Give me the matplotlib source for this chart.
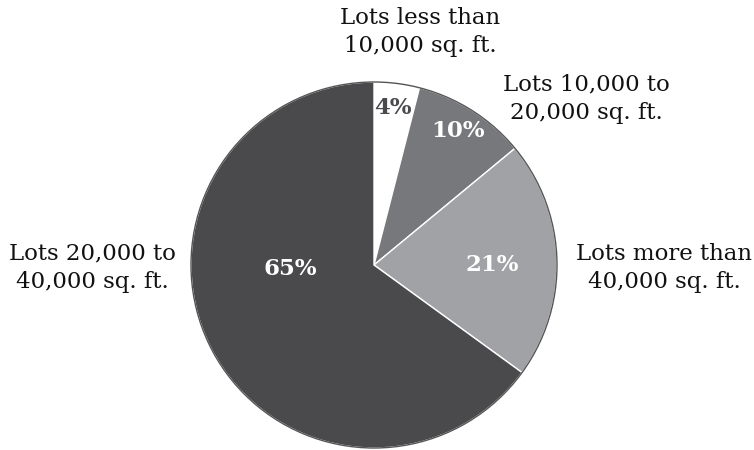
import matplotlib
matplotlib.use("Agg")
import matplotlib.pyplot as plt
from matplotlib.patches import Circle

labels = ["Lots less than\n10,000 sq. ft.", "Lots 10,000 to\n20,000 sq. ft.",
          "Lots more than\n40,000 sq. ft.", "Lots 20,000 to\n40,000 sq. ft."]
values = [4, 10, 21, 65]
colors = ["#ffffff", "#77787b", "#a1a2a5", "#4a4a4c"]
pct_colors = ["#4a4a4c", "#ffffff", "#ffffff", "#ffffff"]

W, H = 754, 450
fig = plt.figure(figsize=(W / 100, H / 100), dpi=100)
ax = fig.add_axes([0, 0, 1, 1])

cx, cy, r = 374, H - 265, 183
wedges, _ = ax.pie(values, colors=colors, startangle=90, counterclock=False,
                   center=(cx, cy), radius=r, frame=True,
                   wedgeprops=dict(edgecolor="white", linewidth=1.0))
ax.set_xlim(0, W)
ax.set_ylim(0, H)
ax.set_aspect("equal")
ax.axis("off")
ax.add_patch(Circle((cx, cy), r, fill=False, edgecolor="#555555", linewidth=1.0))

font = "DejaVu Serif"
pct_pos = [(393, 108), (458, 131), (492, 265), (290, 269)]
for v, (px, py), c in zip(values, pct_pos, pct_colors):
    ax.text(px, H - py, f"{v}%", ha="center", va="center", fontsize=16.5,
            fontweight="bold", color=c, family=font)

lab_pos = [(420, 32), (586, 99), (664, 268), (92, 268)]
for t, (px, py) in zip(labels, lab_pos):
    ax.text(px, H - py, t, ha="center", va="center", fontsize=16.5,
            color="#111111", family=font, linespacing=1.4)

fig.savefig("out.png", dpi=100)
